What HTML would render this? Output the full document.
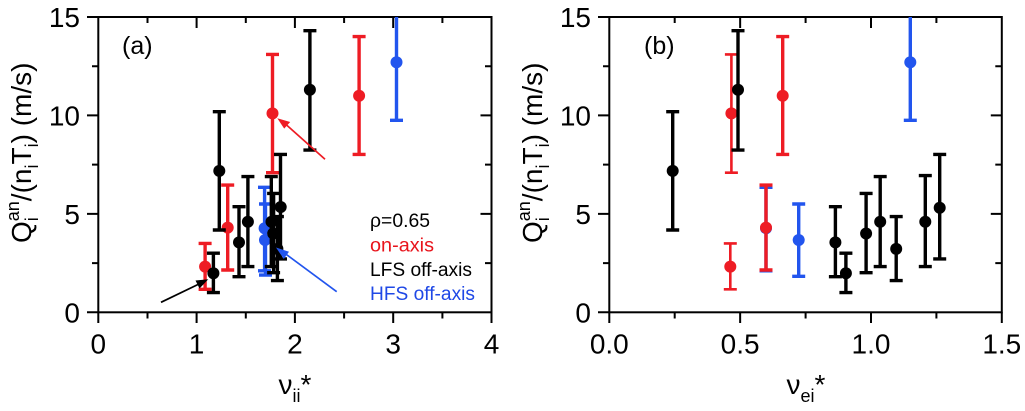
<!DOCTYPE html>
<html>
<head>
<meta charset="utf-8">
<style>
html,body{margin:0;padding:0;background:#fff;}
svg{display:block;}
text{font-family:"Liberation Sans",Arial,sans-serif;}
</style>
</head>
<body>
<svg width="1025" height="411" viewBox="0 0 1025 411" xmlns="http://www.w3.org/2000/svg">
<rect width="1025" height="411" fill="#fff"/>

<!-- ================= PANEL A ================= -->
<g stroke="#000" stroke-width="2" fill="none">
  <rect x="98.3" y="17" width="393.2" height="295.3"/>
  <path d="M98.3 312.3V323 M196.6 312.3V323 M294.9 312.3V323 M393.2 312.3V323 M491.5 312.3V323"/>
  <path d="M147.5 312.3V318.5 M245.8 312.3V318.5 M344.1 312.3V318.5 M442.4 312.3V318.5"/>
  <path d="M196.6 17V28 M294.9 17V28 M393.2 17V28"/>
  <path d="M147.5 17V23 M245.8 17V23 M344.1 17V23 M442.4 17V23"/>
  <path d="M98.3 312.3H87 M98.3 213.9H87 M98.3 115.4H87 M98.3 17H87"/>
  <path d="M98.3 263.1H92 M98.3 164.6H92 M98.3 66.2H92"/>
  <path d="M491.5 213.9H480.5 M491.5 115.4H480.5"/>
  <path d="M491.5 263.1H485 M491.5 164.6H485 M491.5 66.2H485"/>
</g>
<g font-size="28" fill="#000">
  <g text-anchor="end">
    <text x="80" y="322.3">0</text>
    <text x="80" y="223.9">5</text>
    <text x="80" y="125.4">10</text>
    <text x="80" y="27">15</text>
  </g>
  <g text-anchor="middle">
    <text x="98.3" y="353.5">0</text>
    <text x="196.6" y="353.5">1</text>
    <text x="294.9" y="353.5">2</text>
    <text x="393.2" y="353.5">3</text>
    <text x="491.5" y="353.5">4</text>
  </g>
</g>
<text x="122" y="54" font-size="25">(a)</text>

<text transform="translate(31,243) rotate(-90)" font-size="28">Q<tspan font-size="18" dy="7">i</tspan><tspan font-size="18" dx="-4" dy="-19">an</tspan><tspan dy="12">/(n</tspan><tspan font-size="18" dy="7">i</tspan><tspan dy="-7">T</tspan><tspan font-size="18" dy="7">i</tspan><tspan dy="-7">) (m/s)</tspan></text>
<text x="295" y="394" font-size="28" text-anchor="middle">ν<tspan font-size="18" dy="8">ii</tspan><tspan dy="-8">*</tspan></text>

<!-- legend -->
<text x="370" y="227" font-size="19" textLength="60" lengthAdjust="spacingAndGlyphs" fill="#000">ρ=0.65</text>
<text x="370" y="251.5" font-size="19" textLength="64" lengthAdjust="spacingAndGlyphs" fill="#e8141c">on-axis</text>
<text x="370" y="276" font-size="19" textLength="102" lengthAdjust="spacingAndGlyphs" fill="#000">LFS off-axis</text>
<text x="370" y="300" font-size="19" textLength="105" lengthAdjust="spacingAndGlyphs" fill="#1f48e6">HFS off-axis</text>

<!-- blue series a -->
<g stroke="#2255ee" stroke-width="3.4" fill="#2255ee">
  <path d="M264.6 187.3V270.8 M258 187.3H271 M258 270.8H271"/>
  <path d="M265.5 204V275.1 M259 204H272 M259 275.1H272"/>
  <path d="M396.5 17V120.3 M390 120.3H403"/>
  <g stroke="none">
    <circle cx="264.6" cy="228.2" r="6"/>
    <circle cx="265" cy="240" r="6"/>
    <circle cx="396.5" cy="62.2" r="6"/>
  </g>
</g>
<!-- red series a -->
<g stroke="#ee1c24" stroke-width="3.4" fill="#ee1c24">
  <path d="M205.1 243.4V289.3 M198.6 243.4H211.6 M198.6 289.3H211.6"/>
  <path d="M227.7 185.1V270 M221.2 185.1H234.2 M221.2 270H234.2"/>
  <path d="M272.5 54.4V172.7 M266 54.4H279 M266 172.7H279"/>
  <path d="M359.1 36.6V154.4 M352.6 36.6H365.6 M352.6 154.4H365.6"/>
  <g stroke="none">
    <circle cx="205.1" cy="266.6" r="6"/>
    <circle cx="227.7" cy="227.6" r="6"/>
    <circle cx="272.5" cy="113.4" r="6"/>
    <circle cx="359.1" cy="95.7" r="6"/>
  </g>
</g>
<!-- black series a -->
<g stroke="#000" stroke-width="3.4" fill="#000">
  <path d="M213.4 253.2V292.6 M206.9 253.2H219.9 M206.9 292.6H219.9"/>
  <path d="M219.3 111.7V230 M212.8 111.7H225.8 M212.8 230H225.8"/>
  <path d="M239 206.7V276.7 M232.5 206.7H245.5 M232.5 276.7H245.5"/>
  <path d="M247.9 176.6V266.6 M241.4 176.6H254.4 M241.4 266.6H254.4"/>
  <path d="M309.9 30.7V150.1 M303.4 30.7H316.4 M303.4 150.1H316.4"/>
  <path d="M271.3 176.6V266.6 M264.8 176.6H277.8 M264.8 266.6H277.8"/>
  <path d="M273.6 193.4V272.7 M267.1 193.4H280.1 M267.1 272.7H280.1"/>
  <path d="M277.4 216.6V280.6 M270.9 216.6H283.9 M270.9 280.6H283.9"/>
  <path d="M280.5 154.4V258.9 M274 154.4H287 M274 258.9H287"/>
  <g stroke="none">
    <circle cx="213.4" cy="273.3" r="6"/>
    <circle cx="219.3" cy="170.9" r="6"/>
    <circle cx="239" cy="242.4" r="6"/>
    <circle cx="247.9" cy="221.7" r="6"/>
    <circle cx="309.9" cy="89.8" r="6"/>
    <circle cx="271.5" cy="221.7" r="6"/>
    <circle cx="273.2" cy="233.5" r="6"/>
    <circle cx="277.4" cy="248.9" r="6"/>
    <circle cx="280.7" cy="207" r="6"/>
  </g>
</g>

<!-- arrows -->
<g stroke-width="1.7">
  <line x1="161" y1="302.3" x2="199" y2="284" stroke="#000"/>
  <polygon points="208.3,279.3 199.5,288.5 195.5,280.5" fill="#000"/>
  <line x1="325" y1="159.3" x2="286" y2="124.5" stroke="#ee1c24"/>
  <polygon points="277.3,118.3 290.2,122.0 284.2,128.6" fill="#ee1c24"/>
  <line x1="336.7" y1="291.7" x2="285" y2="253.5" stroke="#2255ee"/>
  <polygon points="276,247.5 289.0,251.7 283.8,259.0" fill="#2255ee"/>
</g>

<!-- ================= PANEL B ================= -->
<g stroke="#000" stroke-width="2" fill="none">
  <rect x="609.3" y="17" width="392.5" height="295.3"/>
  <path d="M609.3 312.3V323 M740.15 312.3V323 M871 312.3V323 M1001.8 312.3V323"/>
  <path d="M674.7 312.3V318.5 M805.6 312.3V318.5 M936.4 312.3V318.5"/>
  <path d="M740.15 17V28 M871 17V28"/>
  <path d="M674.7 17V23 M805.6 17V23 M936.4 17V23"/>
  <path d="M609.3 312.3H598 M609.3 213.9H598 M609.3 115.4H598 M609.3 17H598"/>
  <path d="M609.3 263.1H603 M609.3 164.6H603 M609.3 66.2H603"/>
  <path d="M1001.8 213.9H990.8 M1001.8 115.4H990.8"/>
  <path d="M1001.8 263.1H995.3 M1001.8 164.6H995.3 M1001.8 66.2H995.3"/>
</g>
<g font-size="28" fill="#000">
  <g text-anchor="end">
    <text x="591" y="322.3">0</text>
    <text x="591" y="223.9">5</text>
    <text x="591" y="125.4">10</text>
    <text x="591" y="27">15</text>
  </g>
  <g text-anchor="middle">
    <text x="609.3" y="353.5">0.0</text>
    <text x="740.15" y="353.5">0.5</text>
    <text x="871" y="353.5">1.0</text>
    <text x="1001.8" y="353.5">1.5</text>
  </g>
</g>
<text x="644" y="54" font-size="25">(b)</text>

<text transform="translate(542,243) rotate(-90)" font-size="28">Q<tspan font-size="18" dy="7">i</tspan><tspan font-size="18" dx="-4" dy="-19">an</tspan><tspan dy="12">/(n</tspan><tspan font-size="18" dy="7">i</tspan><tspan dy="-7">T</tspan><tspan font-size="18" dy="7">i</tspan><tspan dy="-7">) (m/s)</tspan></text>
<text x="806" y="394" font-size="28" text-anchor="middle">ν<tspan font-size="18" dy="8">ei</tspan><tspan dy="-8">*</tspan></text>

<!-- blue b -->
<g stroke="#2255ee" stroke-width="3.4" fill="#2255ee">
  <path d="M766 187.3V270.8 M759.5 187.3H772.5 M759.5 270.8H772.5"/>
  <path d="M798.7 204V276.3 M792.2 204H805.2 M792.2 276.3H805.2"/>
  <path d="M910.3 17V120.3 M903.8 120.3H916.8"/>
  <g stroke="none">
    <circle cx="766" cy="228.2" r="6"/>
    <circle cx="798.7" cy="240" r="6"/>
    <circle cx="910.3" cy="62.2" r="6"/>
  </g>
</g>
<!-- red b -->
<g stroke="#ee1c24" stroke-width="3.4" fill="#ee1c24">
  <path d="M730.3 243.4V289.3 M723.8 243.4H736.8 M723.8 289.3H736.8" stroke-width="2.6"/>
  <path d="M731.4 54.4V172.7 M724.9 54.4H737.9 M724.9 172.7H737.9" stroke-width="2.6"/>
  <path d="M766 185.1V270 M759.5 185.1H772.5 M759.5 270H772.5"/>
  <path d="M782.7 36.6V154.4 M776.2 36.6H789.2 M776.2 154.4H789.2"/>
  <g stroke="none">
    <circle cx="730.3" cy="266.6" r="6"/>
    <circle cx="731.4" cy="113.4" r="6"/>
    <circle cx="766" cy="227.6" r="6"/>
    <circle cx="782.7" cy="95.7" r="6"/>
  </g>
</g>
<!-- black b -->
<g stroke="#000" stroke-width="3.4" fill="#000">
  <path d="M672.7 111.7V230 M666.2 111.7H679.2 M666.2 230H679.2"/>
  <path d="M738 30.7V150.1 M731.5 30.7H744.5 M731.5 150.1H744.5"/>
  <path d="M835.4 206.7V276.7 M828.9 206.7H841.9 M828.9 276.7H841.9"/>
  <path d="M845.9 253.2V292.6 M839.4 253.2H852.4 M839.4 292.6H852.4"/>
  <path d="M866.1 193.4V272.7 M859.6 193.4H872.6 M859.6 272.7H872.6"/>
  <path d="M880.2 176.6V266.6 M873.7 176.6H886.7 M873.7 266.6H886.7"/>
  <path d="M896.2 216.6V280.6 M889.7 216.6H902.7 M889.7 280.6H902.7"/>
  <path d="M925.3 175.6V266.6 M918.8 175.6H931.8 M918.8 266.6H931.8"/>
  <path d="M939.7 154.4V258.9 M933.2 154.4H946.2 M933.2 258.9H946.2"/>
  <g stroke="none">
    <circle cx="672.7" cy="170.9" r="6"/>
    <circle cx="738" cy="89.8" r="6"/>
    <circle cx="835.4" cy="242.4" r="6"/>
    <circle cx="845.9" cy="273.3" r="6"/>
    <circle cx="866.1" cy="233.5" r="6"/>
    <circle cx="880.2" cy="221.7" r="6"/>
    <circle cx="896.2" cy="248.9" r="6"/>
    <circle cx="925.3" cy="221.7" r="6"/>
    <circle cx="939.7" cy="207.8" r="6"/>
  </g>
</g>
</svg>
</body>
</html>
